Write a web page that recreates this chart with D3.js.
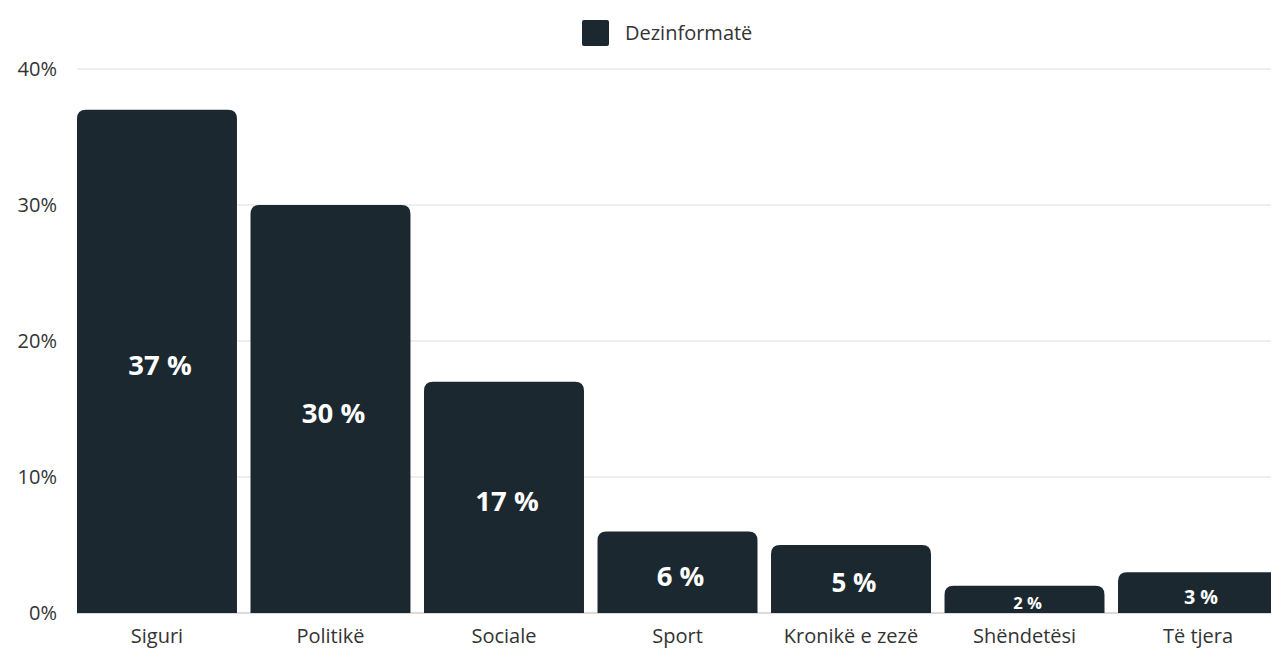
<!DOCTYPE html>
<html>
<head>
<meta charset="utf-8">
<script src="https://cdn.jsdelivr.net/npm/d3@7"></script>
<style>
  body{margin:0;background:#fff;}
  text{font-family:"Open Sans","Lato",sans-serif;}
</style>
</head>
<body>
<svg id="chart" width="1271" height="653"></svg>
<script>
// DATA
var categories = ["Siguri","Politikë","Sociale","Sport","Kronikë e zezë","Shëndetësi","Të tjera"];
var values = [37,30,17,6,5,2,3];
var y_ticks = [0,10,20,30,40];
var series_name = "Dezinformatë";

var bar_color = "#1c2830";
var text_color = "#333";
var margin = {left:77, top:69, bottom:40};
var W = 1271, H = 653;

var svg = d3.select("#chart");

var x = d3.scaleBand()
  .domain(categories)
  .range([margin.left, 1278])
  .paddingInner(0.078)
  .paddingOuter(0);

var y = d3.scaleLinear()
  .domain([0,40])
  .range([H - margin.bottom, margin.top]);

// gridlines
svg.append("g").selectAll("line")
  .data(y_ticks)
  .enter().append("line")
    .attr("x1", margin.left)
    .attr("x2", W)
    .attr("y1", function(d){ return y(d); })
    .attr("y2", function(d){ return y(d); })
    .attr("stroke", function(d){ return d === 0 ? "#b5b5b5" : "#dcdcdc"; })
    .attr("stroke-width", 1);

// y axis labels
var yAxis = d3.axisLeft(y).tickValues(y_ticks).tickFormat(function(d){ return d + "%"; }).tickSize(0).tickPadding(20);
var yg = svg.append("g").attr("transform","translate(" + margin.left + ",0)").call(yAxis);
yg.select(".domain").remove();
yg.selectAll("text").attr("font-size","20px").attr("fill",text_color).style("font-family","'Open Sans', sans-serif");

// bars with rounded top
function bar_path(x0, y0, w, h, r){
  r = Math.min(r, h, w/2);
  return "M" + x0 + "," + (y0 + h) +
    "V" + (y0 + r) +
    "Q" + x0 + "," + y0 + " " + (x0 + r) + "," + y0 +
    "H" + (x0 + w - r) +
    "Q" + (x0 + w) + "," + y0 + " " + (x0 + w) + "," + (y0 + r) +
    "V" + (y0 + h) + "Z";
}

var data = categories.map(function(c,i){ return {cat:c, val:values[i]}; });

svg.append("g").selectAll("path")
  .data(data)
  .enter().append("path")
    .attr("d", function(d){
      return bar_path(x(d.cat), y(d.val), x.bandwidth(), y(0) - y(d.val), 9);
    })
    .attr("fill", bar_color);

// value labels, font grows with bar height
svg.append("g").selectAll("text")
  .data(data)
  .enter().append("text")
    .attr("x", function(d){ return x(d.cat) + x.bandwidth()/2 + 3; })
    .attr("y", function(d){ return (y(d.val) + y(0))/2 + 4; })
    .attr("dy","0.36em")
    .attr("text-anchor","middle")
    .attr("fill","#fff")
    .attr("font-weight","bold")
    .attr("font-size", function(d){
      var h = y(0) - y(d.val);
      return Math.min(27.5, 10.3 + h*0.23) + "px";
    })
    .text(function(d){ return d.val + " %"; });

// x axis labels
var xAxis = d3.axisBottom(x).tickSize(0).tickPadding(16);
var xg = svg.append("g").attr("transform","translate(0," + y(0) + ")").call(xAxis);
xg.select(".domain").remove();
xg.selectAll("text").attr("font-size","20px").attr("fill",text_color).style("font-family","'Open Sans', sans-serif");

// legend
var legend = svg.append("g").attr("transform","translate(582,20)");
legend.append("rect")
  .attr("width",27).attr("height",26).attr("rx",2)
  .attr("fill",bar_color);
legend.append("text")
  .attr("x",43).attr("y",13).attr("dy","0.35em")
  .attr("font-size","20px").attr("fill",text_color)
  .text(series_name);
</script>
</body>
</html>
